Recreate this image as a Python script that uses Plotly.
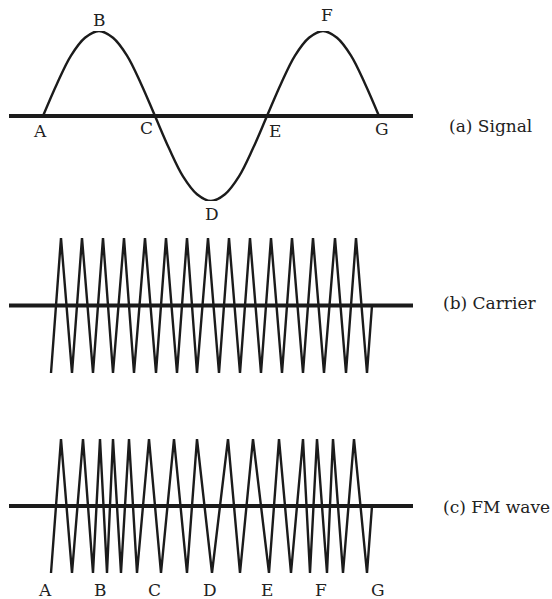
import plotly.graph_objects as go

# ---------------- data (time axis: A = 0, G = 336) ----------------
key_letters = ["A", "B", "C", "D", "E", "F", "G"]
key_t = [0, 56, 112, 168, 224, 280, 336]

# modulating signal, read at sixteenth-period steps
signal_t = [0, 14, 28, 42, 56, 70, 84, 98, 112, 126, 140, 154, 168, 182, 196, 210,
            224, 238, 252, 266, 280, 294, 308, 322, 336]
signal_v = [0, 0.38, 0.71, 0.92, 1, 0.92, 0.71, 0.38, 0, -0.38, -0.71, -0.92, -1,
            -0.92, -0.71, -0.38, 0, 0.38, 0.71, 0.92, 1, 0.92, 0.71, 0.38, 0]

# carrier: turning points of the zig-zag
carrier_t = [8, 18, 29, 39, 50, 60, 70, 81, 91, 102, 113, 123, 134, 144, 154, 165,
             176, 186, 197, 207, 218, 228, 239, 249, 260, 270, 281, 292, 303, 313, 324, 329]
carrier_v = [-1, 1] * 15 + [-1, 0]

# FM wave: turning points (denser near B and F, sparser near D)
fm_t = [8, 18, 29, 40, 50, 57, 64, 70, 78, 86, 94, 106, 118, 131, 144, 154,
        169, 185, 197, 210, 226, 236, 248, 260, 267, 274, 284, 290, 300, 311, 324, 329]
fm_v = [-1, 1] * 15 + [-1, 0]

baseline_t = [-34, 370]
baseline_v = [0, 0]

panel_names = ["(a) Signal", "(b) Carrier", "(c) FM wave"]

# ---------------- styles ----------------
INK = "#1b1b1b"
FONT = dict(family="DejaVu Serif", size=17, color="#222222")
WAVE_W = 2.4
BASE_W = 4.0

fig = go.Figure()

def add_panel(yref, t, v, shape="linear"):
    fig.add_trace(go.Scatter(x=baseline_t, y=baseline_v, mode="lines",
                             line=dict(color=INK, width=BASE_W),
                             xaxis="x", yaxis=yref, hoverinfo="skip"))
    line = dict(color=INK, width=WAVE_W, shape=shape)
    if shape == "spline":
        line["smoothing"] = 1.0
    fig.add_trace(go.Scatter(x=t, y=v, mode="lines", line=line,
                             xaxis="x", yaxis=yref, hoverinfo="skip"))

add_panel("y", signal_t, signal_v, shape="spline")
add_panel("y2", carrier_t, carrier_v)
add_panel("y3", fm_t, fm_v)

# letters on the signal
sig_key_v = [0, 1, 0, -1, 0, 1, 0]
sig_shift = [(-3, -15), (0, 11), (-9, -12), (1, -13), (8, -15), (4, 16), (3, -13)]
annotations = []
for L, t, v, (dx, dy) in zip(key_letters, key_t, sig_key_v, sig_shift):
    annotations.append(dict(x=t, y=v, xref="x", yref="y", text=L, showarrow=False,
                            xshift=dx, yshift=dy, font=FONT,
                            xanchor="center", yanchor="middle"))

# letters under the FM wave
bottom_dx = [2, 1, -1, -1, 0, -2, -1]
for L, t, dx in zip(key_letters, key_t, bottom_dx):
    annotations.append(dict(x=t, y=-1, xref="x", yref="y3", text=L, showarrow=False,
                            xshift=dx, yshift=-17, font=FONT,
                            xanchor="center", yanchor="middle"))

# panel names
name_pos = [(404, "y", -10), (398, "y2", 3), (398, "y3", -1)]
for name, (t, yr, dy) in zip(panel_names, name_pos):
    annotations.append(dict(x=t, y=0, xref="x", yref=yr, text=name, showarrow=False,
                            yshift=dy, font=FONT, xanchor="left", yanchor="middle"))

H = 599.0
def dom(top_px, bottom_px):
    return [1 - bottom_px / H, 1 - top_px / H]

hidden = dict(visible=False, showgrid=False, zeroline=False, fixedrange=True)
fig.update_layout(
    width=552, height=599,
    margin=dict(l=0, r=0, t=0, b=0),
    paper_bgcolor="white", plot_bgcolor="white",
    showlegend=False,
    xaxis=dict(range=[-43, 509], domain=[0, 1], anchor="y", **hidden),
    yaxis=dict(range=[-1, 1], domain=dom(31, 201), anchor="x", **hidden),
    yaxis2=dict(range=[-1, 1], domain=dom(238, 373), anchor="x", **hidden),
    yaxis3=dict(range=[-1, 1], domain=dom(439, 573), anchor="x", **hidden),
    annotations=annotations,
)

fig.write_html("out.html", config={"displayModeBar": False},
               post_script="document.body.style.margin='0';document.body.style.overflow='hidden';")
